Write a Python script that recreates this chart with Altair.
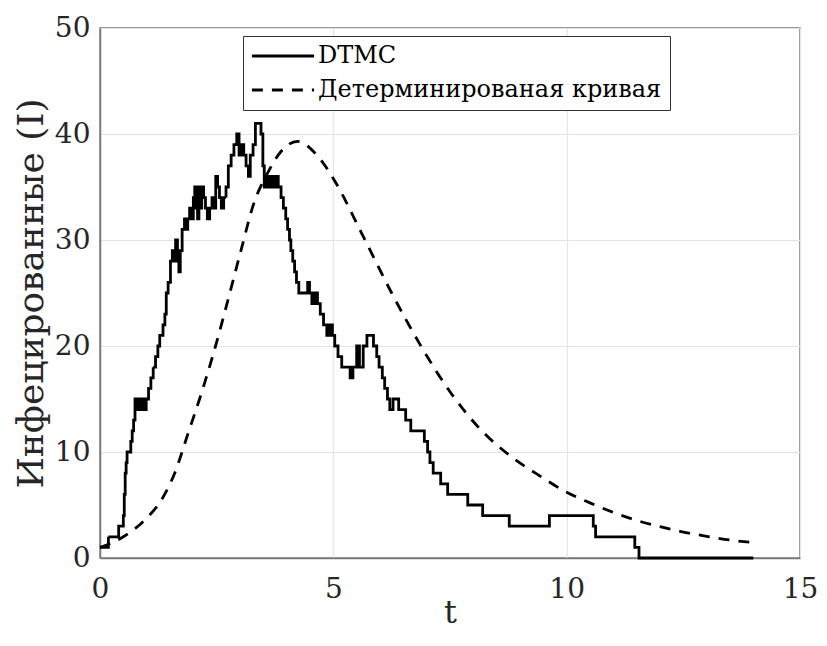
import altair as alt
import pandas as pd

# DTMC stochastic realisation (step function)
t_dtmc = [0.00, 0.18, 0.40, 0.50, 0.52, 0.54, 0.56, 0.58, 0.66, 0.69, 0.72, 0.75, 0.79, 0.83, 0.87, 0.91,
          0.95, 0.99, 1.04, 1.09, 1.14, 1.19, 1.24, 1.28, 1.35, 1.39, 1.42, 1.46, 1.51, 1.55, 1.59, 1.62,
          1.66, 1.69, 1.72, 1.76, 1.81, 1.85, 1.88, 1.92, 1.96, 2.00, 2.03, 2.06, 2.09, 2.12, 2.15, 2.18,
          2.22, 2.26, 2.30, 2.35, 2.40, 2.44, 2.48, 2.52, 2.56, 2.60, 2.65, 2.70, 2.75, 2.81, 2.87, 2.93,
          2.98, 3.03, 3.08, 3.13, 3.18, 3.22, 3.28, 3.33, 3.45, 3.49, 3.52, 3.56, 3.60, 3.65, 3.70, 3.76,
          3.82, 3.88, 3.93, 3.98, 4.02, 4.06, 4.09, 4.13, 4.17, 4.21, 4.26, 4.45, 4.49, 4.54, 4.60, 4.66,
          4.72, 4.79, 4.86, 4.92, 4.98, 5.03, 5.10, 5.18, 5.36, 5.42, 5.50, 5.56, 5.64, 5.72, 5.86, 5.93,
          5.98, 6.05, 6.10, 6.16, 6.21, 6.28, 6.40, 6.55, 6.66, 6.95, 7.02, 7.07, 7.14, 7.30, 7.45, 7.88,
          8.20, 8.77, 9.63, 10.57, 10.62, 11.46, 11.55, 14.00]
i_dtmc = [1, 2, 3, 4, 6, 8, 9, 10, 11, 12, 13, 15, 14, 15, 14, 15,
          14, 15, 16, 17, 18, 19, 20, 21, 22, 23, 25, 26, 28, 29, 28, 30,
          28, 27, 29, 31, 32, 31, 32, 33, 32, 34, 35, 33, 32, 35, 33, 35,
          34, 33, 32, 33, 34, 33, 36, 35, 34, 33, 34, 35, 37, 38, 39, 40,
          38, 39, 38, 37, 36, 38, 39, 41, 40, 37, 35, 36, 35, 36, 35, 36,
          35, 34, 33, 32, 31, 30, 29, 28, 27, 26, 25, 26, 25, 24, 25, 24,
          23, 22, 21, 22, 21, 20, 19, 18, 17, 18, 20, 18, 20, 21, 20, 19,
          18, 17, 16, 15, 14, 15, 14, 13, 12, 11, 10, 9, 8, 7, 6, 5,
          4, 3, 4, 3, 2, 1, 0, 0]

# Deterministic curve
t_det = [0.0, 0.5, 0.96, 1.32, 1.6, 1.89, 2.17, 2.45, 2.74, 3.02, 3.3, 3.59, 3.87, 4.23, 4.65, 5.04,
         5.61, 6.25, 6.89, 7.53, 8.16, 8.8, 9.44, 10.0, 10.5, 11.0, 11.5, 12.0, 12.5, 13.0, 13.5, 14.0]
i_det = [1.0, 2.0, 3.6, 5.5, 8.0, 11.8, 15.5, 19.6, 24.3, 29.0, 33.5, 36.3, 38.3, 39.3, 38.0, 35.5,
         30.6, 25.0, 19.9, 15.5, 12.1, 9.6, 7.7, 6.2, 5.2, 4.3, 3.55, 2.95, 2.45, 2.05, 1.7, 1.45]

series_names = ["DTMC", "Детерминированая кривая"]
x_ticks = [0, 5, 10, 15]
y_ticks = [0, 10, 20, 30, 40, 50]

df_dtmc = pd.DataFrame({"t": t_dtmc, "I": i_dtmc, "series": series_names[0]})
df_det = pd.DataFrame({"t": t_det, "I": i_det, "series": series_names[1]})

FONT = "DejaVu Serif"

x_enc = alt.X("t:Q", scale=alt.Scale(domain=[0, 15], nice=False),
              axis=alt.Axis(values=x_ticks, title="t", format="d", labelFlush=False))
y_enc = alt.Y("I:Q", scale=alt.Scale(domain=[0, 50], nice=False),
              axis=alt.Axis(values=y_ticks, title="Инфецированные (I)", format="d"))
dash_enc = alt.StrokeDash(
    "series:N",
    scale=alt.Scale(domain=series_names, range=[[1, 0], [11, 9]]),
    legend=alt.Legend(
        title=None, orient="none", legendX=143, legendY=8,
        symbolType="M-3,0H3", symbolSize=430, symbolStrokeWidth=2.8,
        symbolOffset=20, symbolStrokeColor="black",
        labelFont=FONT, labelFontSize=24, labelOffset=23,
        labelColor="black", labelLimit=0, rowPadding=10, padding=8,
        strokeColor="#333333", fillColor="white",
    ),
)

line_dtmc = alt.Chart(df_dtmc).mark_line(
    interpolate="step-after", color="black", strokeWidth=2.8
).encode(x=x_enc, y=y_enc, strokeDash=dash_enc)

line_det = alt.Chart(df_det).mark_line(
    interpolate="monotone", color="black", strokeWidth=2.8
).encode(x=x_enc, y=y_enc, strokeDash=dash_enc)

chart = alt.layer(line_dtmc, line_det).properties(
    width=700, height=530,
    autosize=alt.AutoSizeParams(type="none"),
    padding={"left": 92, "top": 20, "right": 19, "bottom": 72},
).configure_view(
    stroke="#7a7a7a", strokeWidth=1.5
).configure_axis(
    grid=True, gridColor="#e3e3e3", gridWidth=1.2,
    domainColor="#7a7a7a", domainWidth=1.5,
    ticks=False, labelFont=FONT, labelFontSize=28, labelColor="#262626",
    titleFont=FONT, titleFontSize=36, titleColor="#262626", titleFontWeight="normal",
).configure_axisX(
    labelPadding=17, titleBaseline="alphabetic", titleY=64, titleFontSize=32,
).configure_axisY(
    labelPadding=10, titlePadding=4,
)

chart.save("out.html", embed_options={"renderer": "svg", "actions": False})
